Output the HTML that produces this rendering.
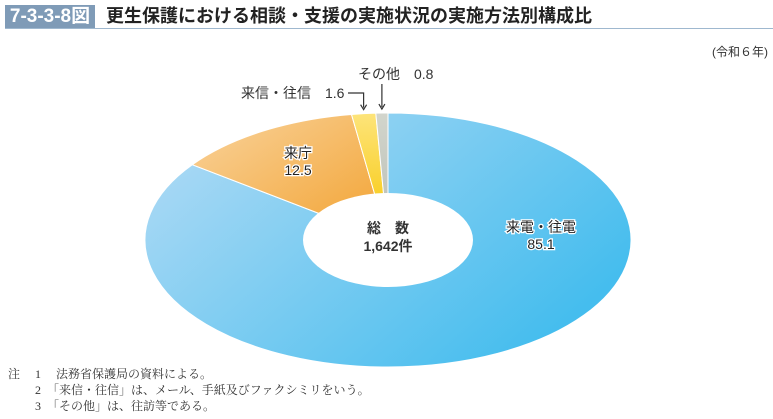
<!DOCTYPE html>
<html><head><meta charset="utf-8"><style>
body{margin:0;background:#fff;width:773px;height:419px;overflow:hidden;font-family:"Liberation Sans","Noto Sans CJK JP",sans-serif;}
.note{position:absolute;font-family:"Liberation Serif","Noto Serif CJK SC",serif;font-size:12px;color:#333;white-space:pre;}
</style></head><body>
<div style="position:absolute;left:5px;top:5px;width:90px;height:23px;background:#7f9bb7;color:#fff;font-weight:bold;font-size:19px;line-height:23px;text-align:center;">7-3-3-8図</div>
<div style="position:absolute;left:106px;top:4px;font-size:18px;font-weight:bold;color:#222;line-height:24px;">更生保護における相談・支援の実施状況の実施方法別構成比</div>
<div style="position:absolute;left:5px;top:28px;width:768px;height:1px;background:#9fb8cf;"></div>
<div style="position:absolute;left:712px;top:43px;font-size:12px;color:#333;">(令和６年)</div>
<svg id="chart" width="773" height="419" style="position:absolute;left:0;top:0">
<defs>
<linearGradient id="gb" x1="0" y1="0" x2="1" y2="0.6"><stop offset="0" stop-color="#b6dcf5"/><stop offset="1" stop-color="#45bdee"/></linearGradient>
<linearGradient id="go" x1="0" y1="0" x2="1" y2="1"><stop offset="0" stop-color="#f9d39c"/><stop offset="1" stop-color="#f2a12e"/></linearGradient>
<linearGradient id="gy" x1="0" y1="0" x2="0" y2="1"><stop offset="0" stop-color="#fde47a"/><stop offset="1" stop-color="#f7c500"/></linearGradient>
<linearGradient id="gg" x1="0" y1="0" x2="0" y2="1"><stop offset="0" stop-color="#d2d5cc"/><stop offset="1" stop-color="#b8bdb4"/></linearGradient>
</defs>
<g id="slices"></g>
<g id="labels" font-size="14" fill="#333"></g>
</svg>
<div class="note" style="left:8px;top:365px;">注　 1　 法務省保護局の資料による。</div>
<div class="note" style="left:8px;top:381px;">　　 2　「来信・往信」は、メール、手紙及びファクシミリをいう。</div>
<div class="note" style="left:8px;top:397px;">　　 3　「その他」は、往訪等である。</div>
<script>
const categories=["来電・往電","来庁","来信・往信","その他"];
const values=[85.1,12.5,1.6,0.8];
const fills=["url(#gb)","url(#go)","url(#gy)","url(#gg)"];
const cx=388,cy=240,RX=243,RY=127,rx=85,ry=47;
const NS="http://www.w3.org/2000/svg";
const total=values.reduce((a,b)=>a+b,0);
function pt(a,X,Y){return [cx+X*Math.sin(a),cy-Y*Math.cos(a)];}
const g=document.getElementById('slices');
let acc=0;const mids=[];
values.forEach((v,i)=>{
 const a0=acc/total*2*Math.PI;acc+=v;const a1=acc/total*2*Math.PI;
 mids.push((a0+a1)/2);
 const lg=(a1-a0)>Math.PI?1:0;
 const p0=pt(a0,RX,RY),p1=pt(a1,RX,RY);
 const d=`M${cx},${cy} L${p0} A${RX},${RY} 0 ${lg} 1 ${p1} Z`;
 const p=document.createElementNS(NS,'path');
 p.setAttribute('d',d);p.setAttribute('fill',fills[i]);p.setAttribute('stroke','#fff');p.setAttribute('stroke-width','1');
 
 
 g.appendChild(p);
});
const hole=document.createElementNS(NS,'ellipse');
hole.setAttribute('cx',cx);hole.setAttribute('cy',cy);hole.setAttribute('rx',rx);hole.setAttribute('ry',ry);hole.setAttribute('fill','#fff');


g.appendChild(hole);
const L=document.getElementById('labels');
function txt(x,y,s,name,opt){const t=document.createElementNS(NS,'text');t.setAttribute('x',x);t.setAttribute('y',y);t.textContent=s;
 if(opt&&opt.anchor)t.setAttribute('text-anchor',opt.anchor);if(opt&&opt.fill)t.setAttribute('fill',opt.fill);if(opt&&opt.bold)t.setAttribute('font-weight','bold');
 if(opt&&opt.stroke){t.setAttribute('stroke',opt.stroke);t.setAttribute('stroke-width','2.5');t.setAttribute('paint-order','stroke');}
 
 
 L.appendChild(t);}
txt(cx,233,"総　数","total-label",{anchor:"middle",bold:true});
txt(cx,251,"1,642件","total-value",{anchor:"middle",bold:true});
const inPos=[[541,232],[298,158]];
[0,1].forEach(i=>{const p=inPos[i];
 txt(p[0],p[1],categories[i],'label-'+i,{anchor:"middle",fill:"#222",stroke:"#fff"});
 txt(p[0],p[1]+17,values[i].toFixed(1),'value-'+i,{anchor:"middle",fill:"#222",stroke:"#fff"});});
const p2=pt(mids[2],RX,RY),p3=pt(mids[3],RX,RY);
txt(241,98,categories[2]+"　"+values[2].toFixed(1),'label-2',{});
txt(358,79,categories[3]+"　"+values[3].toFixed(1),'label-3',{});
function line(d,name){const p=document.createElementNS(NS,'path');p.setAttribute('d',d);p.setAttribute('stroke','#333');p.setAttribute('fill','none');p.setAttribute('stroke-width','1.2');
 
 
 L.appendChild(p);}
line(`M348,93 H${p2[0]} V${p2[1]-6}`,'leader-2');
line(`M${p2[0]-3},${p2[1]-9} L${p2[0]},${p2[1]-4} L${p2[0]+3},${p2[1]-9}`,'arrow-2');
line(`M${p3[0]},84 V${p3[1]-6}`,'leader-3');
line(`M${p3[0]-3},${p3[1]-9} L${p3[0]},${p3[1]-4} L${p3[0]+3},${p3[1]-9}`,'arrow-3');
</script>
</body></html>
